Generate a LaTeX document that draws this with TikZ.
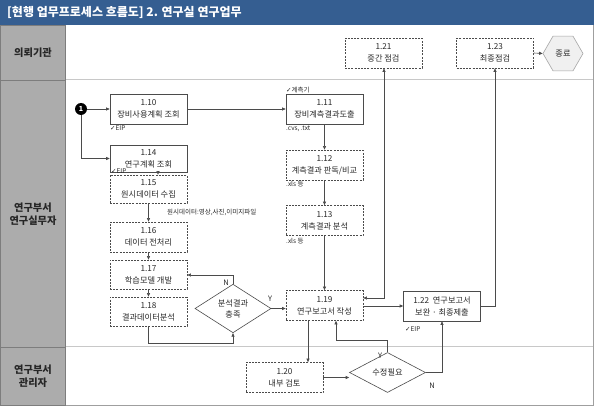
\documentclass[tikz,border=0pt]{standalone}
\usepackage{fontspec}
\setmainfont{Noto Sans CJK KR}
\newfontfamily\dejavu{DejaVu Sans}
\usetikzlibrary{arrows.meta,shapes.geometric,calc}
\definecolor{titleblue}{RGB}{53,94,145}
\definecolor{lanegray}{RGB}{172,172,172}
\definecolor{laneedge}{RGB}{125,125,125}
\definecolor{sepgray}{RGB}{200,200,200}
\definecolor{ink}{RGB}{75,75,75}
\definecolor{txt}{RGB}{40,40,40}
\newcommand{\chk}{{\dejavu ✓}}
\begin{document}
\begin{tikzpicture}[x=1pt,y=-1pt,
  box/.style={draw=ink, line width=0.6pt, minimum width=77pt, minimum height=30pt, inner sep=1pt, align=center, font=\fontsize{8.2}{12}\selectfont, text=txt, fill=white},
  dbox/.style={box, dash pattern=on 2pt off 1.2pt, line width=0.7pt},
  decision/.style={diamond, draw=ink, line width=0.6pt, inner sep=0pt, minimum width=76pt, minimum height=40pt, align=center, font=\fontsize{8.2}{11}\selectfont, text=txt, fill=white},
  endnode/.style={regular polygon, regular polygon sides=6, minimum size=40pt, inner sep=0pt, draw=gray!70, fill=gray!12, line width=0.6pt, font=\fontsize{8.2}{9}\selectfont, text=txt},
  lnk/.style={draw=ink, line width=0.6pt, -{Triangle[length=3.5pt,width=3pt]}},
  note/.style={font=\fontsize{6.5}{7.5}\selectfont, text=txt, inner sep=0pt, anchor=west},
  lab/.style={font=\fontsize{7.5}{8}\selectfont, text=txt, inner sep=0pt},
  lanelab/.style={font=\bfseries\fontsize{10.2}{13.5}\selectfont, align=center, text=black!85},
  cell/.style={fill=lanegray, draw=laneedge, line width=0.8pt}
]
\useasboundingbox (0,0) rectangle (595,406);
\fill[white] (0,0) rectangle (595,406);
% title
\fill[titleblue] (0,0) rectangle (594,25);
\node[anchor=west, text=white, font=\bfseries\fontsize{12}{13}\selectfont, inner sep=0pt] (title) at (7,12.5) {[현행 업무프로세스 흐름도] 2. 연구실 연구업무};
% lanes
\draw[sepgray, line width=1pt] (65,80) -- (593,80);
\draw[sepgray, line width=1pt] (65,347) -- (593,347);
\draw[gray!75, line width=0.8pt] (593,25) -- (593,405) -- (65,405);
\draw[cell] (0.5,25.5) rectangle (65,80);
\draw[cell] (0.5,80) rectangle (65,347);
\draw[cell] (0.5,347) rectangle (65,405);
\node[lanelab] (L1) at (33,52.5) {의뢰기관};
\node[lanelab] (L2) at (33,214) {연구부서\\연구실무자};
\node[lanelab] (L3) at (33,376) {연구부서\\관리자};
% start
\node[circle, fill=black, minimum size=12pt, inner sep=0pt, text=white, font=\bfseries\fontsize{7}{7}\selectfont] (start) at (81,109) {1};
% nodes
\node[box]  (n110) at (148.5,109) {1.10\\장비사용계획 조회};
\node[box, minimum height=27pt]  (n114) at (148.5,158.5) {1.14\\연구계획 조회};
\node[dbox, minimum height=28pt] (n115) at (148.5,189) {1.15\\원시데이터 수집};
\node[dbox] (n116) at (148.5,237) {1.16\\데이터 전처리};
\node[dbox, minimum height=29pt] (n117) at (148.5,274.5) {1.17\\학습모델 개발};
\node[dbox, minimum height=29pt] (n118) at (148.5,311.5) {1.18\\결과데이터분석};
\node[box]  (n111) at (324.5,109) {1.11\\장비계측결과도출};
\node[dbox] (n112) at (324.5,165) {1.12\\계측결과 판독/비교};
\node[dbox] (n113) at (324.5,220.5) {1.13\\계측결과 분석};
\node[dbox] (n119) at (324.5,305.5) {1.19\\연구보고서 작성};
\node[dbox] (n121) at (383.5,53) {1.21\\중간 점검};
\node[dbox] (n123) at (495,53) {1.23\\최종점검};
\node[endnode] (end) at (563,53.5) {종료};
\node[box]  (n122) at (442,306) {1.22\ \ 연구보고서\\보완 · 최종제출};
\node[dbox] (n120) at (284.5,377.5) {1.20\\내부 검토};
\node[decision] (d1) at (233,308.5) {분석결과\\충족};
\node[decision] (d2) at (387.5,372.5) {수정필요};
% notes
\node[note] (e1) at (110,128.5) {\chk EIP};
\node[note] (e2) at (111,171) {\chk EIP};
\node[note] (e3) at (405,329) {\chk EIP};
\node[note] (m1) at (286,90) {\chk 계측기};
\node[note] (m2) at (286,128.5) {.cvs, .txt};
\node[note] (m3) at (286,184.5) {.xls 등};
\node[note] (m4) at (286,241) {.xls 등};
\node[note] (m5) at (167,212) {원시데이터:영상,사진,이미지파일};
% connectors
\draw[lnk] (start) -- (n110);
\draw[lnk] (start) |- (n114);
\draw[lnk] (n110) -- (n111);
\draw[lnk] (n114.south -| 158,0) -- (n115.north -| 158,0);
\draw[lnk] (n115) -- (n116);
\draw[lnk] (n116) -- (n117);
\draw[lnk] (n117) -- (n118);
\coordinate (c1) at (148.5,343);
\draw[lnk] (n118.south) -- (c1) -| (d1.south);
\coordinate (c2) at (233,275);
\draw[lnk] (d1.north) -- (c2) -- (n117.east |- c2);
\node[lab] (lN1) at (226,283) {N};
\draw[lnk] (d1.east) -- (n119.west |- d1.east);
\node[lab] (lY1) at (270,298.5) {Y};
\draw[lnk] (n111) -- (n112);
\draw[lnk] (n112) -- (n113);
\draw[lnk] (n113) -- (n119);
\coordinate (c3) at (384,298);
\draw[lnk, {Triangle[length=3.5pt,width=3pt]}-{Triangle[length=3.5pt,width=3pt]}] (n119.east |- c3) -- (c3) -- (n121.south -| c3);
\draw[lnk] (n119.east |- n122.west) -- (n122.west);
\coordinate (c4) at (495,306);
\draw[lnk] (n122.east) -- (c4) -- (n123.south);
\draw[lnk] (n123.east) -- (end.west);
\draw[lnk] (n119.south -| 308,0) -- (n120.north -| 308,0);
\draw[lnk] (n120.east) -- (d2.west |- n120.east);
\coordinate (c5) at (387.5,340);
\draw[lnk] (d2.north) -- (c5) -- (336,340) -- (n119.south -| 336,0);
\node[lab] (lY2) at (380,356) {Y};
\coordinate (c6) at (442,372.5);
\draw[lnk] (d2.east) -- (c6) -- (n122.south);
\node[lab] (lN2) at (432,386) {N};
\end{tikzpicture}
\end{document}
